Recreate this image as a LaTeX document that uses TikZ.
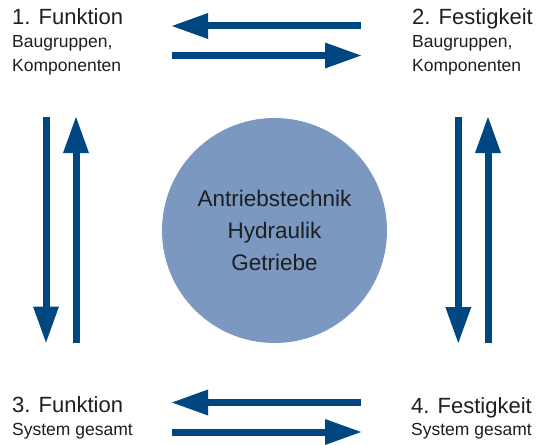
\documentclass[tikz,border=0pt]{standalone}
\usepackage{fontspec}
\setmainfont{Liberation Sans}
\usetikzlibrary{arrows.meta,positioning}
\definecolor{flowblue}{RGB}{0,70,128}
\definecolor{hubblue}{RGB}{122,152,192}
\definecolor{labelgray}{RGB}{30,30,30}

\begin{document}
\begin{tikzpicture}[
    x=1pt, y=-1pt,
    title/.style={anchor=base west, inner sep=0pt, text=labelgray, font=\fontsize{22}{26}\selectfont},
    sub/.style={anchor=base west, inner sep=0pt, text=labelgray, align=left, font=\fontsize{17.5}{24}\selectfont},
    hub/.style={circle, fill=hubblue, minimum size=225pt, inner sep=0pt, align=center, text=labelgray, font=\fontsize{22.5}{32}\selectfont},
    arrow/.style={-{Triangle[length=36pt, width=26pt, line width=0pt]}, line width=7pt, flowblue}
]
    \useasboundingbox (0,0) rectangle (537,444);

    % centre
    \node[hub] (hub) at (274.5,230.5) {Antriebstechnik\\Hydraulik\\Getriebe};

    % corner labels
    \node[title] (func1) at (12,25) {1. Funktion};
    \node[sub] (func1sub) at (12,71.7) {Baugruppen,\\Komponenten};
    \node[title] (fest2) at (412,25) {2. Festigkeit};
    \node[sub] (fest2sub) at (412,71.7) {Baugruppen,\\Komponenten};
    \node[title] (func3) at (12,412) {3. Funktion};
    \node[sub] (func3sub) at (12,435) {System gesamt};
    \node[title] (fest4) at (411,413) {4. Festigkeit};
    \node[sub] (fest4sub) at (411,435) {System gesamt};

    % arrow ends
    \coordinate (topL) at (172,26);
    \coordinate (topR) at (361,26);
    \coordinate (topL2) at (172,55.5);
    \coordinate (topR2) at (361,55.5);
    \coordinate (botL) at (172,402.5);
    \coordinate (botR) at (361,402.5);
    \coordinate (botL2) at (172,432);
    \coordinate (botR2) at (361,432);
    \coordinate (leftT) at (46,117);
    \coordinate (leftB) at (46,342.5);
    \coordinate (leftT2) at (76,117);
    \coordinate (leftB2) at (76,343);
    \coordinate (rightT) at (458.3,117);
    \coordinate (rightB) at (458.3,343);
    \coordinate (rightT2) at (488,117);
    \coordinate (rightB2) at (488,343);

    \draw[arrow] (topR) -- (topL);
    \draw[arrow] (topL2) -- (topR2);
    \draw[arrow] (botR) -- (botL);
    \draw[arrow] (botL2) -- (botR2);
    \draw[arrow] (leftT) -- (leftB);
    \draw[arrow] (leftB2) -- (leftT2);
    \draw[arrow] (rightT) -- (rightB);
    \draw[arrow] (rightB2) -- (rightT2);
\end{tikzpicture}
\end{document}
